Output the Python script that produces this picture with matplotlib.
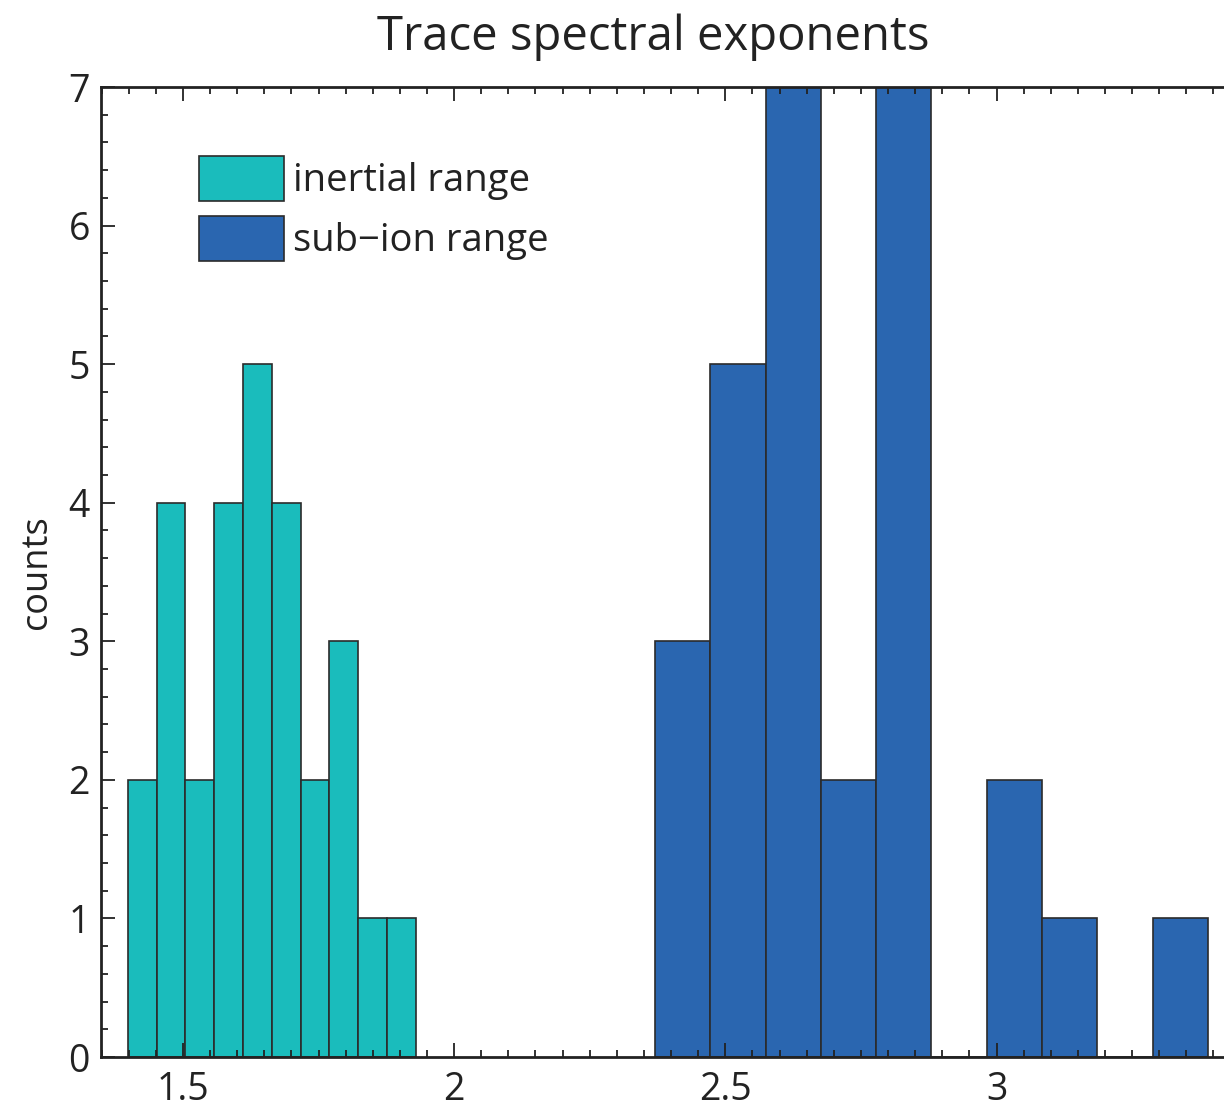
import matplotlib
matplotlib.use("Agg")
import matplotlib.pyplot as plt
from matplotlib.ticker import MultipleLocator

plt.rcParams['font.family'] = ['Open Sans', 'DejaVu Sans']

# Histogram of trace spectral exponents
inertial_start = 1.3985
inertial_width = 0.0531
inertial_counts = [2, 4, 2, 4, 5, 4, 2, 3, 1, 1]

subion_start = 2.3706
subion_width = 0.1019
subion_counts = [3, 5, 7, 2, 7, 0, 2, 1, 0, 1]

inertial_edges = [inertial_start + i * inertial_width for i in range(len(inertial_counts))]
subion_edges = [subion_start + i * subion_width for i in range(len(subion_counts))]

W, H = 1224, 1110
fig = plt.figure(figsize=(W / 100, H / 100), dpi=100)
x0, x1 = 1.349, 3.45
px_per_unit = 542.4
left_px, top_px, bottom_px = 101, 87, 1057
width_px = (x1 - x0) * px_per_unit
ax = fig.add_axes([left_px / W, 1 - bottom_px / H, width_px / W, (bottom_px - top_px) / H])

edge = '#2b2b2b'
ax.bar(inertial_edges, inertial_counts, width=inertial_width, align='edge',
       color='#1abcbc', edgecolor=edge, linewidth=1.2, label='inertial range')
ax.bar(subion_edges, subion_counts, width=subion_width, align='edge',
       color='#2a66b0', edgecolor=edge, linewidth=1.2, label='sub\u2212ion range')

ax.set_xlim(x0, x1)
ax.set_ylim(0, 7)
ax.xaxis.set_major_locator(MultipleLocator(0.5))
ax.xaxis.set_minor_locator(MultipleLocator(0.05))
ax.yaxis.set_major_locator(MultipleLocator(1))
ax.yaxis.set_minor_locator(MultipleLocator(0.2))
ax.set_xticks([1.5, 2, 2.5, 3])
ax.set_xticklabels(['1.5', '2', '2.5', '3'])

ax.tick_params(which='both', direction='in', top=True, right=True, colors='#222222',
               labelsize=27, width=1.3)
ax.tick_params(which='major', length=10)
ax.tick_params(which='minor', length=5)
ax.tick_params(axis='x', pad=10)
ax.tick_params(axis='y', pad=8)
for s in ax.spines.values():
    s.set_linewidth(2)
    s.set_color('#222222')
ax.set_axisbelow(False)

ax.set_ylabel('counts', fontsize=26, color='#222222', labelpad=10)
ax.set_title('Trace spectral exponents', fontsize=34, color='#222222', pad=27, x=0.4843)

leg = ax.legend(loc='upper left', bbox_to_anchor=(0.0726, 0.945), frameon=False,
                fontsize=27.5, handlelength=2.22, handleheight=1.47, handletextpad=0.25,
                labelspacing=0.37, borderaxespad=0)
for t in leg.get_texts():
    t.set_color('#222222')

fig.savefig('out.png', dpi=100)
